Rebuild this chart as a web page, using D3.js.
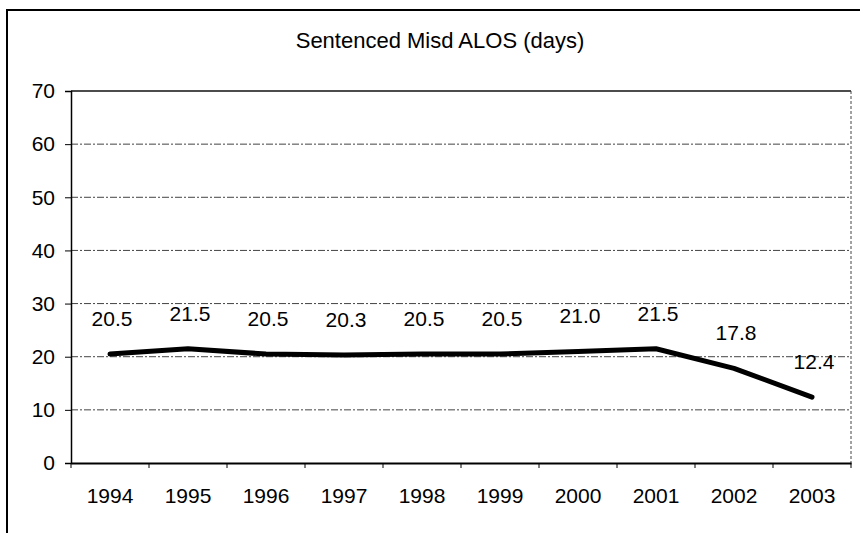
<!DOCTYPE html>
<html>
<head>
<meta charset="utf-8">
<script src="https://cdn.jsdelivr.net/npm/d3@7"></script>
<style>
  html, body { margin: 0; padding: 0; background: #fff; }
  svg { display: block; }
  text { font-family: "Liberation Sans", Arial, sans-serif; fill: #000; }
</style>
</head>
<body>
<svg id="chart" width="860" height="533"></svg>
<script>
const title = "Sentenced Misd ALOS (days)";
const years = ["1994","1995","1996","1997","1998","1999","2000","2001","2002","2003"];
const alos = [20.5, 21.5, 20.5, 20.3, 20.5, 20.5, 21.0, 21.5, 17.8, 12.4];
const yTicks = [0, 10, 20, 30, 40, 50, 60, 70];

const svg = d3.select("#chart");
const W = 860, H = 533;
const plot = { left: 71, right: 851, top: 91, bottom: 463 };

// outer chart border (left and top visible)
svg.append("path")
  .attr("d", `M7,${H} L7,10 L${W},10`)
  .attr("fill", "none").attr("stroke", "#000").attr("stroke-width", 2);

const x = d3.scaleBand().domain(years).range([plot.left, plot.right]).paddingInner(0).paddingOuter(0);
const y = d3.scaleLinear().domain([0, 70]).range([plot.bottom, plot.top]);

// title
svg.append("text")
  .attr("x", 440).attr("y", 48)
  .attr("text-anchor", "middle")
  .style("font-size", "22px")
  .text(title);

// gridlines
svg.append("g").selectAll("line")
  .data(yTicks.filter(d => d > 0))
  .join("line")
  .attr("x1", plot.left).attr("x2", plot.right)
  .attr("y1", d => y(d)).attr("y2", d => y(d))
  .attr("stroke", d => d === 70 ? "#111" : "#444")
  .attr("stroke-width", d => d === 70 ? 1.5 : 1)
  .attr("stroke-dasharray", d => d === 70 ? null : "7,2,2,2");

// right plot border (dashed)
svg.append("line")
  .attr("x1", plot.right).attr("x2", plot.right)
  .attr("y1", plot.top).attr("y2", plot.bottom)
  .attr("stroke", "#444").attr("stroke-width", 1).attr("stroke-dasharray", "3,2");

// y axis
const yAxis = svg.append("g")
  .attr("transform", `translate(${plot.left},0)`)
  .call(d3.axisLeft(y).tickValues(yTicks).tickSize(6).tickPadding(10).tickFormat(d3.format("d")));
yAxis.select(".domain").attr("stroke", "#000").attr("stroke-width", 1.5);
yAxis.selectAll(".tick line").attr("stroke", "#000");
yAxis.selectAll("text").style("font-size", "21px").attr("fill", "#000")
  .style("font-family", '"Liberation Sans", Arial, sans-serif');

// x axis
const xAxis = svg.append("g")
  .attr("transform", `translate(0,${plot.bottom})`)
  .call(d3.axisBottom(x).tickSize(0).tickPadding(25).tickSizeOuter(0));
xAxis.select(".domain").attr("stroke", "#000").attr("stroke-width", 2);
xAxis.selectAll("text").style("font-size", "21px").attr("fill", "#000")
  .style("font-family", '"Liberation Sans", Arial, sans-serif');

// category boundary tick marks
const bounds = years.map(d => x(d)).concat([x(years[years.length - 1]) + x.bandwidth()]);
svg.append("g").selectAll("line")
  .data(bounds)
  .join("line")
  .attr("x1", d => d).attr("x2", d => d)
  .attr("y1", plot.bottom).attr("y2", plot.bottom + 5)
  .attr("stroke", "#000").attr("stroke-width", 1);

// line
const cx = d => x(d) + x.bandwidth() / 2;
const line = d3.line()
  .x((d, i) => cx(years[i]))
  .y(d => y(d));
svg.append("path")
  .datum(alos)
  .attr("d", line)
  .attr("fill", "none")
  .attr("stroke", "#000")
  .attr("stroke-width", 5)
  .attr("stroke-linejoin", "round")
  .attr("stroke-linecap", "round");

// data labels
svg.append("g").selectAll("text")
  .data(alos)
  .join("text")
  .attr("x", (d, i) => cx(years[i]) + 2)
  .attr("y", d => y(d) - 28)
  .attr("text-anchor", "middle")
  .style("font-size", "21px")
  .text(d => d3.format(".1f")(d));
</script>
</body>
</html>
